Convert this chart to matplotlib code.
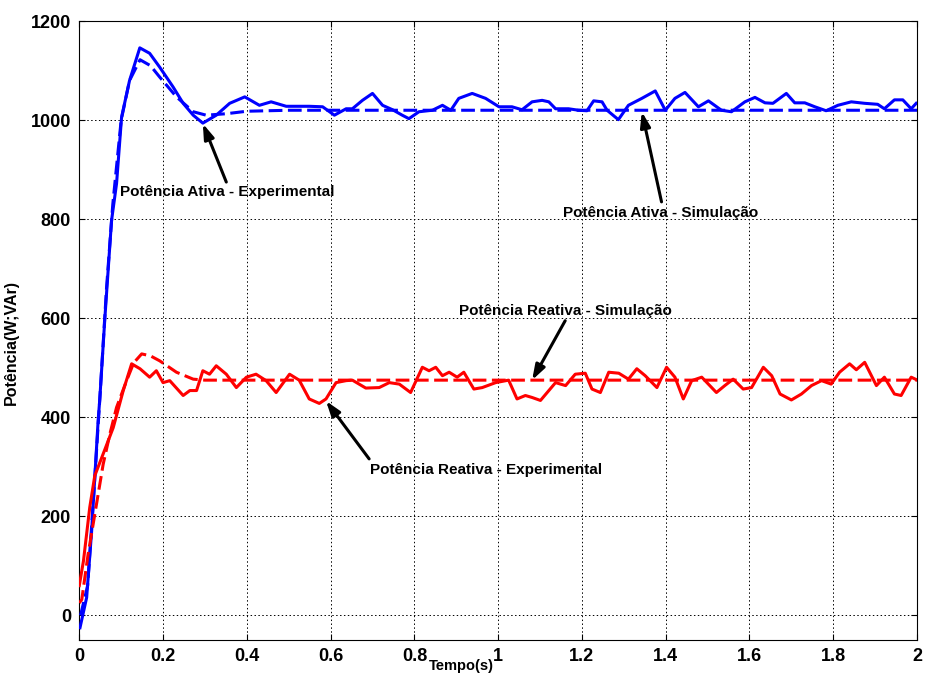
import matplotlib
matplotlib.use("Agg")
import matplotlib.pyplot as plt

# Potência ativa - experimental (azul, contínua)
p_exp_t = [0.0017, 0.0176, 0.0295, 0.037, 0.045, 0.049, 0.061, 0.077, 0.089, 0.101,
           0.12, 0.1445, 0.168, 0.192, 0.224, 0.248, 0.272, 0.295, 0.327, 0.359,
           0.395, 0.430, 0.458, 0.494, 0.549, 0.581, 0.609, 0.637, 0.652, 0.676,
           0.700, 0.724, 0.748, 0.771, 0.787, 0.811, 0.843, 0.867, 0.887, 0.906,
           0.938, 0.970, 1.002, 1.033, 1.057, 1.081, 1.105, 1.121, 1.137, 1.168,
           1.192, 1.212, 1.228, 1.248, 1.260, 1.287, 1.311, 1.343, 1.375, 1.399,
           1.422, 1.446, 1.478, 1.502, 1.533, 1.557, 1.589, 1.613, 1.637, 1.656,
           1.688, 1.708, 1.732, 1.756, 1.783, 1.811, 1.843, 1.875, 1.906, 1.922,
           1.946, 1.966, 1.986, 1.998]
p_exp = [-25, 36, 170, 278, 393, 437, 599, 797, 872, 1006,
         1080, 1146, 1135, 1107, 1067, 1034, 1010, 994, 1010, 1034,
         1047, 1030, 1037, 1028, 1028, 1027, 1010, 1023, 1023, 1040,
         1054, 1030, 1021, 1010, 1003, 1017, 1020, 1030, 1020, 1044,
         1054, 1044, 1027, 1027, 1021, 1037, 1040, 1037, 1023, 1023,
         1020, 1019, 1039, 1037, 1020, 1001, 1030, 1044, 1059, 1020,
         1044, 1056, 1027, 1039, 1020, 1017, 1037, 1046, 1035, 1034,
         1054, 1035, 1035, 1027, 1019, 1030, 1037, 1034, 1032, 1023,
         1041, 1041, 1023, 1034]

# Potência ativa - simulação (azul, tracejada)
p_sim_t = [0.003, 0.02, 0.035, 0.05, 0.065, 0.08, 0.1, 0.12, 0.145, 0.17, 0.192,
           0.232, 0.272, 0.303, 0.351, 0.4, 0.5, 2.0]
p_sim = [0, 60, 250, 450, 660, 830, 1000, 1080, 1122, 1110, 1087,
         1047, 1017, 1010, 1013, 1018, 1020, 1020]

# Potência reativa - experimental (vermelha, contínua)
q_exp_t = [0.0, 0.01, 0.025, 0.037, 0.057, 0.081, 0.105, 0.125, 0.145, 0.168,
           0.184, 0.2, 0.216, 0.248, 0.264, 0.280, 0.295, 0.311, 0.327, 0.351,
           0.375, 0.399, 0.422, 0.446, 0.470, 0.502, 0.525, 0.549, 0.573, 0.589,
           0.613, 0.637, 0.652, 0.684, 0.716, 0.740, 0.764, 0.791, 0.819, 0.835,
           0.851, 0.867, 0.883, 0.902, 0.918, 0.942, 0.962, 0.994, 1.025, 1.045,
           1.065, 1.081, 1.101, 1.121, 1.137, 1.161, 1.184, 1.208, 1.224, 1.244,
           1.264, 1.288, 1.311, 1.331, 1.351, 1.379, 1.402, 1.422, 1.442, 1.462,
           1.486, 1.521, 1.541, 1.561, 1.585, 1.605, 1.633, 1.653, 1.673, 1.700,
           1.724, 1.748, 1.772, 1.795, 1.815, 1.839, 1.855, 1.875, 1.903, 1.922,
           1.946, 1.962, 1.986, 1.996]
q_exp = [60, 110, 218, 282, 326, 379, 454, 508, 498, 481,
         494, 470, 474, 444, 454, 454, 494, 487, 504, 487,
         460, 481, 487, 474, 450, 487, 475, 437, 428, 437,
         470, 474, 475, 459, 460, 470, 467, 450, 501, 494,
         501, 484, 491, 481, 491, 457, 460, 470, 475, 437,
         444, 440, 434, 454, 470, 464, 487, 489, 457, 450,
         491, 489, 477, 498, 484, 460, 501, 481, 437, 474,
         481, 450, 464, 477, 457, 460, 501, 484, 447, 435,
         447, 464, 474, 467, 491, 508, 496, 511, 464, 481,
         447, 444, 481, 477]

# Potência reativa - simulação (vermelha, tracejada)
q_sim_t = [0.0, 0.006, 0.021, 0.041, 0.057, 0.073, 0.089, 0.113, 0.13, 0.149,
           0.17, 0.192, 0.232, 0.272, 0.3, 2.0]
q_sim = [25, 32, 123, 224, 305, 366, 420, 474, 510, 528,
         524, 514, 491, 477, 475, 475]

# rótulos: (texto, posição do texto, ponta da seta, cauda da seta)
labels = [
    ("Potência Ativa - Experimental", (0.353, 854), (0.295, 993), (0.351, 875)),
    ("Potência Ativa - Simulação", (1.389, 812), (1.343, 1017), (1.390, 835)),
    ("Potência Reativa - Simulação", (1.160, 614), (1.081, 475), (1.160, 595)),
    ("Potência Reativa - Experimental", (0.972, 293), (0.589, 433), (0.692, 316)),
]

plt.rcParams["font.family"] = ["Liberation Sans", "DejaVu Sans"]
plt.rcParams["font.weight"] = "bold"

fig = plt.figure(figsize=(9.25, 6.81), dpi=100)
ax = fig.add_axes([0.0857, 0.060, 0.9057, 0.909])

ax.plot(p_exp_t, p_exp, color="#0000ff", lw=2.2, zorder=3)
ax.plot(p_sim_t, p_sim, color="#0000ff", lw=2.2, ls=(0, (4.5, 1.8)), zorder=3)
ax.plot(q_exp_t, q_exp, color="#ff0000", lw=2.2, zorder=3)
ax.plot(q_sim_t, q_sim, color="#ff0000", lw=2.2, ls=(0, (4.5, 1.8)), zorder=3)

for text, pos, head, tail in labels:
    ax.annotate("", xy=head, xytext=tail,
                arrowprops=dict(arrowstyle="-|>,head_length=0.9,head_width=0.3",
                                color="black", lw=2.2, shrinkA=0, shrinkB=0),
                zorder=4)
    ax.text(pos[0], pos[1], text, ha="center", va="center", fontsize=11,
            fontweight="bold", zorder=5)

ax.set_xlim(0, 2)
ax.set_ylim(-50, 1200)
xt = [0, 0.2, 0.4, 0.6, 0.8, 1, 1.2, 1.4, 1.6, 1.8, 2]
ax.set_xticks(xt)
ax.set_xticklabels([f"{v:g}" for v in xt])
ax.set_yticks(range(0, 1201, 200))
ax.tick_params(direction="in", length=4, labelsize=13, pad=6,
               top=True, right=True)
for lab in ax.get_xticklabels() + ax.get_yticklabels():
    lab.set_fontweight("bold")
ax.grid(True, color="black", ls=(0, (1.5, 2.5)), lw=0.7)
for s in ax.spines.values():
    s.set_linewidth(0.8)

ax.set_xlabel("Tempo(s)", fontsize=10.5, fontweight="bold", va="center")
ax.xaxis.set_label_coords(0.456, -0.042)
ax.set_ylabel("Potência(W;VAr)", fontsize=11.5, fontweight="bold")
ax.yaxis.set_label_coords(-0.072, 0.481)

fig.savefig("out.png", dpi=100)
